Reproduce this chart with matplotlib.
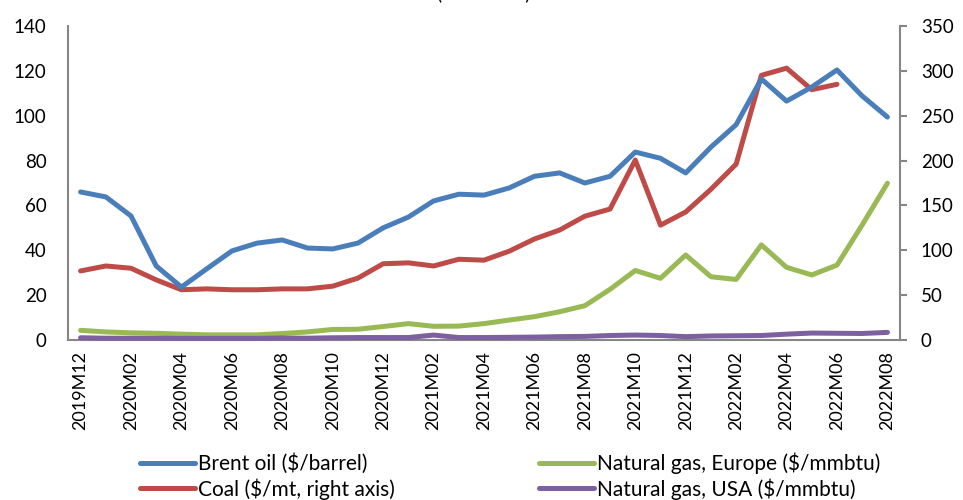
import matplotlib
matplotlib.use("Agg")
import matplotlib.pyplot as plt
import numpy as np

plt.rcParams['font.family'] = ['Lato', 'DejaVu Sans']

months = ['2019M12', '2020M01', '2020M02', '2020M03', '2020M04', '2020M05', '2020M06',
          '2020M07', '2020M08', '2020M09', '2020M10', '2020M11', '2020M12',
          '2021M01', '2021M02', '2021M03', '2021M04', '2021M05', '2021M06',
          '2021M07', '2021M08', '2021M09', '2021M10', '2021M11', '2021M12',
          '2022M01', '2022M02', '2022M03', '2022M04', '2022M05', '2022M06',
          '2022M07', '2022M08']

brent = [66.0, 63.8, 55.3, 33.0, 23.6, 31.7, 39.7, 43.2, 44.6, 41.0, 40.6, 43.2, 50.0,
         54.8, 62.0, 65.0, 64.6, 67.8, 73.0, 74.5, 70.0, 73.0, 83.8, 81.0, 74.5,
         86.0, 96.0, 116.4, 106.5, 112.8, 120.4, 108.8, 99.4]

coal = [77, 82.5, 80, 67, 56, 57, 56, 56, 57, 57, 60, 69, 85,
        86, 82.5, 90, 89, 99, 112.6, 122.6, 138, 146, 200.6, 128, 142.7,
        168, 196, 295, 303, 279, 285, np.nan, np.nan]

gas_europe = [4.3, 3.6, 3.2, 3.0, 2.6, 2.3, 2.3, 2.3, 2.9, 3.6, 4.7, 4.8, 6.0,
              7.3, 6.1, 6.2, 7.3, 8.9, 10.4, 12.6, 15.3, 22.6, 31.0, 27.5, 37.9,
              28.2, 27.0, 42.4, 32.4, 29.0, 33.4, 51.3, 69.9]

gas_usa = [1.0, 0.8, 0.8, 0.8, 0.7, 0.7, 0.7, 0.7, 0.9, 0.8, 1.0, 1.1, 1.1,
           1.1, 2.2, 1.1, 1.1, 1.2, 1.3, 1.5, 1.6, 2.0, 2.2, 2.0, 1.5,
           1.8, 1.9, 2.0, 2.6, 3.1, 3.0, 2.9, 3.4]

left_ticks = [0, 20, 40, 60, 80, 100, 120, 140]
right_ticks = [0, 50, 100, 150, 200, 250, 300, 350]

labels = {
    'brent': 'Brent oil ($/barrel)',
    'coal': 'Coal ($/mt, right axis)',
    'eur': 'Natural gas, Europe ($/mmbtu)',
    'usa': 'Natural gas, USA ($/mmbtu)',
}

c_blue = '#4A7EBB'
c_red = '#BE4B48'
c_green = '#98B954'
c_purple = '#7D60A0'
axis_col = '#868686'
fs = 13.5
fs_x = 13
fs_leg = 15

fig = plt.figure(figsize=(9.63, 5.0), dpi=100)
ax = fig.add_axes([0.0706, 0.32, 0.8640, 0.628])
ax2 = ax.twinx()

x = np.arange(len(months))
lw = 3.6
kw = dict(lw=lw, solid_capstyle='round', solid_joinstyle='round')
l_brent, = ax.plot(x, brent, color=c_blue, label=labels['brent'], zorder=4, **kw)
l_eur, = ax.plot(x, gas_europe, color=c_green, label=labels['eur'], zorder=3, **kw)
l_usa, = ax.plot(x, gas_usa, color=c_purple, label=labels['usa'], zorder=3, clip_on=False, **kw)
l_coal, = ax2.plot(x, coal, color=c_red, label=labels['coal'], zorder=5, **kw)

ax.set_zorder(ax2.get_zorder() + 1)
ax.patch.set_visible(False)

ax.set_xlim(-0.5, len(months) - 0.5)
ax.set_ylim(0, 140)
ax2.set_ylim(0, 350)
ax.set_yticks(left_ticks)
ax2.set_yticks(right_ticks)
ax.set_xticks(x[::2])
ax.set_xticklabels(months[::2], rotation=90, fontsize=fs_x)

for a in (ax, ax2):
    for s in a.spines.values():
        s.set_visible(False)
ax.spines['left'].set_visible(True)
ax.spines['bottom'].set_visible(True)
ax2.spines['right'].set_visible(True)
for s in (ax.spines['left'], ax.spines['bottom'], ax2.spines['right']):
    s.set_color(axis_col)
    s.set_linewidth(1.5)

ax.tick_params(axis='y', length=0, labelsize=fs, pad=15.5)
ax.tick_params(axis='x', length=0, pad=8)
ax2.tick_params(axis='y', length=5, width=1.5, color=axis_col, labelsize=fs, pad=10, direction='out')

fig.text(0.502, 1.001, '(US dollars)', ha='center', va='baseline', fontsize=fs)

handles = [l_brent, l_coal, l_eur, l_usa]
leg = fig.legend(handles, [h.get_label() for h in handles], ncol=2, loc='lower left',
                 bbox_to_anchor=(0.137, -0.016), frameon=False, fontsize=fs_leg,
                 handlelength=2.64, handletextpad=0.15, columnspacing=6.9,
                 labelspacing=0.2, borderaxespad=0.0)

fig.savefig('out.png', dpi=100)
